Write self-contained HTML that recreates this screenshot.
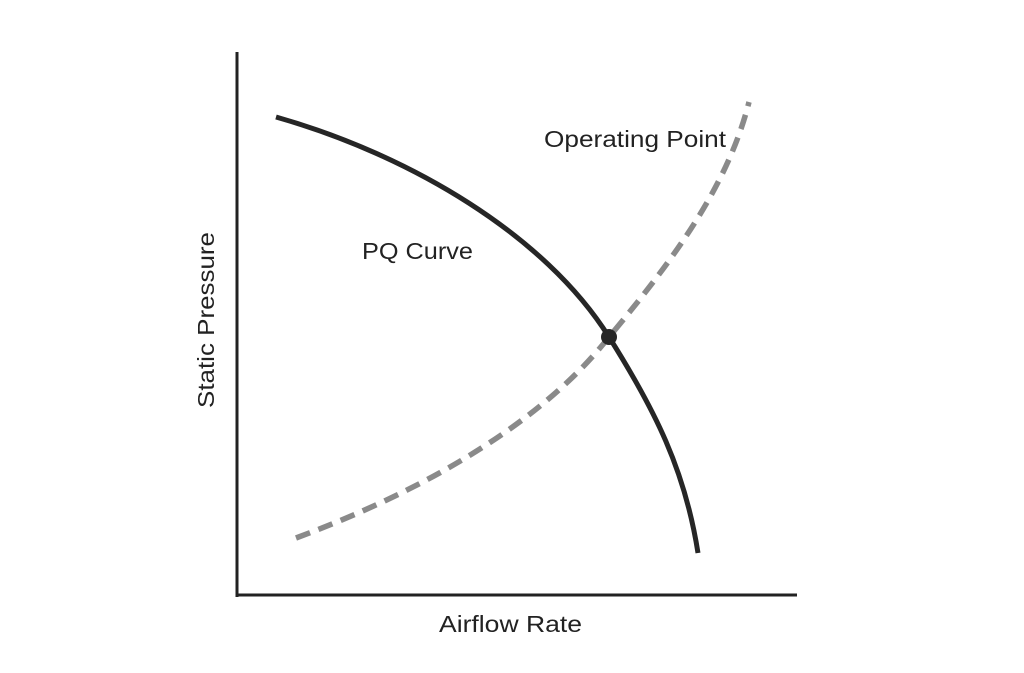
<!DOCTYPE html>
<html><head><style>
html,body{margin:0;padding:0;background:#fff;}
text{font-family:"Liberation Sans",sans-serif;fill:#222;}
</style></head><body>
<svg width="1024" height="668" viewBox="0 0 1024 668" xmlns="http://www.w3.org/2000/svg">
<line x1="237" y1="52" x2="237" y2="597" stroke="#222" stroke-width="3"/>
<line x1="235.5" y1="595" x2="797" y2="595" stroke="#222" stroke-width="3"/>
<path d="M296,538 C420,492 540,425 609,337 C675,258 728,185 749,102" fill="none" stroke="#8a8a8a" stroke-width="5.5" stroke-dasharray="15,9"/>
<path d="M276,117 C410,155 545,235 609,337 C655,410 685,470 698,553" fill="none" stroke="#262626" stroke-width="5"/>
<circle cx="609" cy="337" r="8" fill="#262626"/>
<text x="544" y="147" font-size="23" textLength="182" lengthAdjust="spacingAndGlyphs">Operating Point</text>
<text x="362" y="259" font-size="23" textLength="111" lengthAdjust="spacingAndGlyphs">PQ Curve</text>
<text x="439" y="632" font-size="23" textLength="143" lengthAdjust="spacingAndGlyphs">Airflow Rate</text>
<text transform="translate(214,408) rotate(-90)" font-size="23" textLength="176" lengthAdjust="spacingAndGlyphs">Static Pressure</text>
</svg>
</body></html>
